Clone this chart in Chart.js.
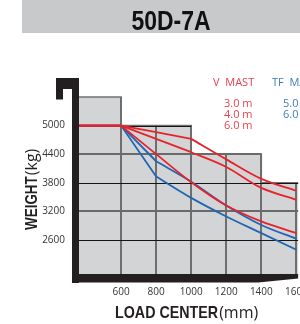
<!DOCTYPE html>
<html>
<head>
<meta charset="utf-8">
<script src="https://cdn.jsdelivr.net/npm/chart.js@4.4.1/dist/chart.umd.min.js"></script>
<style>
  html, body { margin: 0; padding: 0; background: #fff; overflow: hidden; }
  #wrap { width: 320px; height: 324px; }
</style>
</head>
<body>
<div id="wrap"><canvas id="capChart" width="320" height="324"></canvas></div>
<script>
// load center (mm) and rated capacity (kg) per mast
const loadCenters = [360, 600, 800, 1000, 1200, 1400, 1600];
const vMast30  = [5000, 5000, 4860, 4720, 4290, 3880, 3630];
const vMast40  = [5000, 5000, 4720, 4440, 4130, 3690, 3440];
const vMast60  = [5000, 5000, 4400, 3810, 3320, 2985, 2740];
const tfMast50 = [5000, 5000, 4250, 3820, 3320, 2910, 2620];
const tfMast60 = [5000, 5000, 3930, 3480, 3090, 2740, 2390];

// where each curve stops being straight (mm)
const kneeV30 = 1000, kneeV40 = 1000, kneeV60 = 600, kneeTF50 = 800, kneeTF60 = 800;

const xTicks = [600, 800, 1000, 1200, 1400, 1600];
const yTicks = [2600, 3200, 3800, 4400, 5000];

// stepped grey capacity boxes behind the curves
const boxBreaks = [600, 1000, 1400];
const boxTops = [5600, 5000, 4400, 3800];

const modelName = "50D-7A";
const vMastLabels = ["3.0 m", "4.0 m", "6.0 m"];
const tfMastLabels = ["5.0 m", "6.0 m"];

const RED = "#e8222c";
const BLUE = "#1f67b4";
const BOLD = '"Liberation Sans", Arial, sans-serif';

// ---------------------------------------------
// datasets: straight part + curved part
// ---------------------------------------------
function mastLines(label, weights, knee, color) {
    const pts = loadCenters.map((x, i) => ({ x: x, y: weights[i] }));
    const base = { borderColor: color, borderWidth: 1.8, pointRadius: 0, fill: false };
    return [
        Object.assign({ label: label, data: pts.filter(p => p.x <= knee), tension: 0 }, base),
        Object.assign({ label: label, data: pts.filter(p => p.x >= knee), cubicInterpolationMode: "monotone" }, base)
    ];
}

const datasets = [
    ...mastLines("V 3.0 m", vMast30, kneeV30, RED),
    ...mastLines("V 4.0 m", vMast40, kneeV40, RED),
    ...mastLines("V 6.0 m", vMast60, kneeV60, RED),
    ...mastLines("TF 5.0 m", tfMast50, kneeTF50, BLUE),
    ...mastLines("TF 6.0 m", tfMast60, kneeTF60, BLUE)
];

function boxTopAt(v) {
    for (let i = 0; i < boxBreaks.length; i++) {
        if (v <= boxBreaks[i]) return boxTops[i];
    }
    return boxTops[boxTops.length - 1];
}

// bold narrow text: Liberation Sans squeezed sideways
function narrowText(ctx, text, x, y, size, squeeze) {
    ctx.save();
    ctx.font = "bold " + size + "px " + BOLD;
    ctx.translate(x, y);
    ctx.scale(squeeze, 1);
    ctx.fillText(text, 0, 0);
    const w = ctx.measureText(text).width * squeeze;
    ctx.restore();
    return w;
}

// ---------------------------------------------
// backdrop: grey boxes, grid, black frame, texts
// ---------------------------------------------
const sheetPlugin = {
    id: "sheet",
    beforeDatasetsDraw(chart) {
        const { ctx, chartArea: a, scales: { x, y } } = chart;
        const px = v => x.getPixelForValue(v);
        const py = v => y.getPixelForValue(v);
        const edges = [x.min, ...boxBreaks, x.max];

        ctx.save();
        ctx.fillStyle = "#d3d4d6";
        boxTops.forEach((top, i) => {
            ctx.fillRect(px(edges[i]), py(top), px(edges[i + 1]) - px(edges[i]), a.bottom - py(top));
        });

        ctx.strokeStyle = "#707070";
        ctx.lineWidth = 1.5;
        ctx.beginPath();
        ctx.moveTo(px(edges[0]), py(boxTops[0]));
        boxTops.forEach((top, i) => {
            ctx.lineTo(px(edges[i + 1]), py(top));
            if (i < boxTops.length - 1) ctx.lineTo(px(edges[i + 1]), py(boxTops[i + 1]));
        });
        ctx.stroke();

        ctx.lineWidth = 2;
        ctx.strokeStyle = "#6e6e6e";
        xTicks.forEach(v => {
            const gx = Math.round(px(v));
            ctx.beginPath();
            ctx.moveTo(gx, a.bottom);
            ctx.lineTo(gx, py(boxTopAt(v)));
            ctx.stroke();
        });

        yTicks.forEach((v, i) => {
            let last = 0;
            boxTops.forEach((t, k) => { if (t >= v) last = k; });
            const dark = i % 2 === 0;
            ctx.strokeStyle = dark ? "#151515" : "#6a6a6a";
            ctx.lineWidth = dark ? 1.2 : 1.8;
            const gy = Math.round(py(v)) + (dark ? 0.5 : 0);
            ctx.beginPath();
            ctx.moveTo(a.left, gy);
            ctx.lineTo(px(edges[last + 1]), gy);
            ctx.stroke();
        });
        ctx.restore();
    },
    afterDatasetsDraw(chart) {
        const { ctx, chartArea: a } = chart;
        ctx.save();
        ctx.fillStyle = "#231f20";
        // left post with hook on top
        ctx.fillRect(a.left - 7, a.top, 7, a.bottom + 9 - a.top);
        ctx.fillRect(a.left - 23, a.top, 23, 11);
        ctx.fillRect(a.left - 23, a.top, 7, 21.5);
        // base bar, tapering at the right end
        ctx.beginPath();
        ctx.moveTo(a.left - 7, a.bottom);
        ctx.lineTo(a.right, a.bottom);
        ctx.lineTo(a.right, a.bottom + 4.5);
        ctx.lineTo(a.right - 40, a.bottom + 8.5);
        ctx.lineTo(a.left - 7, a.bottom + 8.5);
        ctx.closePath();
        ctx.fill();
        ctx.restore();
    },
    afterDraw(chart) {
        const ctx = chart.ctx;
        ctx.save();

        // title bar
        ctx.fillStyle = "#c8c9cb";
        ctx.fillRect(22, 0, 278, 33);
        ctx.fillStyle = "#111";
        ctx.textAlign = "left";
        ctx.textBaseline = "alphabetic";
        ctx.font = "bold 28px " + BOLD;
        const tw = ctx.measureText(modelName).width * 0.82;
        narrowText(ctx, modelName, 171 - tw / 2, 30, 28, 0.82);

        // mast legend
        ctx.textBaseline = "middle";
        ctx.font = '11px "Open Sans"';
        ctx.fillStyle = "#e8424e";
        ctx.fillText("V  MAST", 213, 83);
        vMastLabels.forEach((t, i) => ctx.fillText(t, 224, 103.5 + i * 11));
        ctx.fillStyle = "#3f7cc2";
        ctx.fillText("TF  MAST", 272, 83);
        tfMastLabels.forEach((t, i) => ctx.fillText(t, 283, 103.5 + i * 11));

        // axis titles
        ctx.fillStyle = "#231f20";
        ctx.textBaseline = "alphabetic";
        let w = narrowText(ctx, "LOAD CENTER", 115, 318, 17, 0.84);
        ctx.font = '16px "Open Sans"';
        ctx.fillText("(mm)", 115 + w + 1, 318);

        ctx.translate(37, 230);
        ctx.rotate(-Math.PI / 2);
        w = narrowText(ctx, "WEIGHT", 0, 0, 16, 0.84);
        ctx.font = '16px "Open Sans"';
        ctx.fillText("(kg)", w + 1, 0);
        ctx.restore();
    }
};

const tickFont = { family: '"Open Sans"', size: 10 };

new Chart(document.getElementById("capChart"), {
    type: "line",
    data: { datasets: datasets },
    options: {
        responsive: false,
        animation: false,
        layout: { padding: { top: 78, right: 20, bottom: 0, left: 0 } },
        plugins: { legend: { display: false }, tooltip: { enabled: false } },
        scales: {
            x: {
                type: "linear",
                min: 360,
                max: 1610,
                afterBuildTicks: s => { s.ticks = xTicks.map(v => ({ value: v })); },
                afterFit: s => { s.height = 50; },
                grid: { display: false, drawTicks: false },
                border: { display: false },
                ticks: { padding: 12, font: tickFont, color: "#333", maxRotation: 0, autoSkip: false,
                         callback: v => String(v) }
            },
            y: {
                type: "linear",
                min: 1880,
                max: 6000,
                afterBuildTicks: s => { s.ticks = yTicks.map(v => ({ value: v })); },
                afterFit: s => { s.width = 79; },
                grid: { display: false, drawTicks: false },
                border: { display: false },
                ticks: { padding: 14, font: tickFont, color: "#333", autoSkip: false,
                         callback: v => String(v) }
            }
        }
    },
    plugins: [sheetPlugin]
});
</script>
</body>
</html>
